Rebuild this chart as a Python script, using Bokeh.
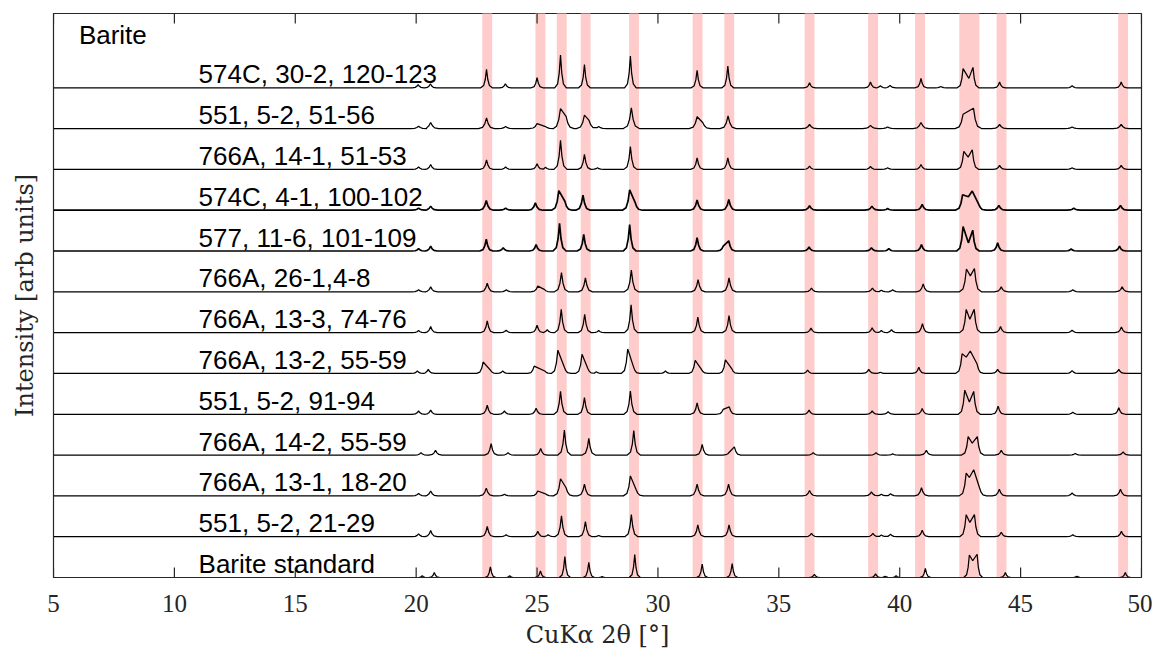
import math
from bokeh.plotting import figure
from bokeh.models import Range1d, FixedTicker, ColumnDataSource
from bokeh.core.properties import value
from bokeh.embed import file_html
from bokeh.resources import INLINE

# ---------------- data ----------------
x_ticks = [5, 10, 15, 20, 25, 30, 35, 40, 45, 50]

# barite reference bands (centre, width) in degrees 2-theta
band_center = [22.94, 25.14, 26.02, 27.01, 29.01, 31.64, 32.95, 36.27, 38.90, 40.84, 42.88, 44.21, 49.24]
band_width = [0.41, 0.41, 0.41, 0.41, 0.41, 0.41, 0.41, 0.41, 0.41, 0.41, 0.83, 0.41, 0.41]

# sample labels, top to bottom
labels = ["574C, 30-2, 120-123", "551, 5-2, 51-56", "766A, 14-1, 51-53", "574C, 4-1, 100-102",
          "577, 11-6, 101-109", "766A, 26-1,4-8", "766A, 13-3, 74-76", "766A, 13-2, 55-59",
          "551, 5-2, 91-94", "766A, 14-2, 55-59", "766A, 13-1, 18-20", "551, 5-2, 21-29",
          "Barite standard"]

# peak features per pattern: groups of (2theta, intensity above baseline, in trace-spacing units)
p574C_30_2 = [[(20.08, 0.08)], [(20.59, 0.10)], [(22.91, 0.45)], [(23.69, 0.10)], [(25.00, 0.25)],
              [(25.97, 0.80)], [(26.96, 0.57)], [(28.86, 0.78)], [(31.62, 0.43)], [(32.89, 0.53)],
              [(36.27, 0.12)], [(38.79, 0.14)], [(39.20, 0.05)], [(39.60, 0.06)], [(40.88, 0.23)],
              [(41.70, 0.03)], [(42.62, 0.47), (42.86, 0.23), (43.03, 0.50)], [(44.13, 0.14)],
              [(47.13, 0.05)], [(49.16, 0.14)]]
p551_5_2_51 = [[(20.10, 0.06)], [(20.60, 0.15)], [(22.91, 0.26)], [(23.70, 0.05)], [(25.00, 0.12), (25.35, 0.05)],
               [(25.97, 0.49), (26.20, 0.30)], [(26.96, 0.33), (27.15, 0.20)], [(27.55, 0.05)], [(28.90, 0.51)],
               [(31.62, 0.29), (31.85, 0.15)], [(32.90, 0.31)], [(36.27, 0.10)], [(38.79, 0.08)], [(39.50, 0.04)],
               [(40.88, 0.15)], [(42.62, 0.35), (43.05, 0.50)], [(44.13, 0.10)], [(47.13, 0.04)], [(49.16, 0.10)]]
p766A_14_1 = [[(20.10, 0.06)], [(20.60, 0.12)], [(22.91, 0.23)], [(23.70, 0.06)], [(25.00, 0.14)], [(25.35, 0.05)],
              [(25.97, 0.71)], [(26.96, 0.37)], [(27.50, 0.04)], [(28.86, 0.56)], [(31.62, 0.28)], [(32.89, 0.28)],
              [(36.27, 0.08)], [(38.79, 0.07)], [(39.50, 0.04)], [(40.88, 0.12)],
              [(42.65, 0.44), (42.83, 0.30), (43.00, 0.48)], [(44.13, 0.10)], [(47.13, 0.04)], [(49.16, 0.10)]]
p574C_4_1 = [[(20.10, 0.05)], [(20.60, 0.10)], [(22.90, 0.24)], [(23.70, 0.05)], [(24.93, 0.18)],
             [(25.90, 0.48), (26.15, 0.22)], [(26.90, 0.37)], [(28.83, 0.50), (29.05, 0.20)], [(31.62, 0.25)],
             [(32.93, 0.26)], [(36.27, 0.11)], [(38.85, 0.10)], [(39.50, 0.04)], [(40.93, 0.14)],
             [(42.60, 0.38), (42.84, 0.33), (43.00, 0.47), (43.27, 0.14)], [(44.10, 0.12)], [(47.20, 0.05)],
             [(49.13, 0.12)]]
p577_11_6 = [[(20.10, 0.06)], [(20.60, 0.12)], [(22.90, 0.29)], [(23.60, 0.08)], [(24.96, 0.16)], [(25.93, 0.68)],
             [(26.93, 0.41)], [(28.83, 0.65)], [(31.62, 0.33)], [(32.70, 0.12), (32.93, 0.25)], [(36.25, 0.10)],
             [(38.83, 0.08)], [(39.55, 0.06)], [(40.90, 0.16)], [(42.62, 0.60), (42.84, 0.20), (43.02, 0.51)],
             [(44.05, 0.20)], [(47.09, 0.05)], [(49.09, 0.12)]]
p766A_26_1 = [[(20.10, 0.05)], [(20.60, 0.12)], [(22.94, 0.21)], [(23.73, 0.05)], [(25.03, 0.14), (25.30, 0.06)],
              [(26.01, 0.47)], [(27.00, 0.34)], [(28.90, 0.53)], [(31.66, 0.30)], [(32.94, 0.34)], [(36.35, 0.09)],
              [(38.87, 0.09)], [(39.24, 0.04)], [(39.71, 0.05)], [(40.97, 0.19)],
              [(42.76, 0.56), (42.92, 0.39), (43.09, 0.57)], [(44.20, 0.12)], [(47.16, 0.05)], [(49.20, 0.12)]]
p766A_13_3 = [[(20.10, 0.05)], [(20.60, 0.15)], [(22.94, 0.29)], [(23.72, 0.06)], [(25.00, 0.18)], [(25.42, 0.07)],
              [(26.00, 0.57)], [(26.97, 0.45)], [(27.55, 0.05)], [(28.89, 0.68)], [(31.65, 0.38)], [(32.94, 0.42)],
              [(36.33, 0.11)], [(38.86, 0.12)], [(39.24, 0.05)], [(39.66, 0.07)], [(40.94, 0.22)],
              [(42.75, 0.57), (42.90, 0.33), (43.08, 0.57)], [(44.17, 0.15)], [(47.13, 0.06)], [(49.17, 0.14)]]
p766A_13_2 = [[(20.05, 0.06)], [(20.50, 0.10)], [(22.77, 0.28), (23.07, 0.08)], [(23.58, 0.06)],
              [(24.88, 0.18), (25.32, 0.06)], [(25.86, 0.57), (26.13, 0.15)], [(26.86, 0.47), (27.10, 0.12)],
              [(27.45, 0.04)], [(28.75, 0.60), (28.98, 0.18)], [(30.31, 0.06)], [(31.54, 0.32), (31.80, 0.10)],
              [(32.79, 0.33), (33.05, 0.12)], [(36.19, 0.08)], [(38.72, 0.10)], [(39.20, 0.03)], [(40.79, 0.15)],
              [(42.58, 0.48), (42.75, 0.40), (42.92, 0.55), (43.20, 0.23)], [(44.05, 0.10)], [(47.13, 0.07)],
              [(49.06, 0.10)]]
p551_5_2_91 = [[(20.10, 0.08)], [(20.60, 0.10)], [(22.94, 0.22)], [(23.65, 0.08)], [(24.96, 0.15)], [(25.97, 0.56)],
               [(26.96, 0.41)], [(28.86, 0.57)], [(31.62, 0.28)], [(32.70, 0.12), (32.95, 0.18)], [(36.25, 0.10)],
               [(38.86, 0.08)], [(39.52, 0.06)], [(40.93, 0.14)], [(42.69, 0.59), (42.88, 0.30), (43.06, 0.56)],
               [(44.07, 0.20)], [(47.16, 0.05)], [(49.06, 0.16)]]
p766A_14_2 = [[(20.20, 0.06)], [(20.80, 0.12)], [(23.10, 0.28)], [(23.80, 0.06)], [(25.15, 0.16)], [(26.13, 0.61)],
              [(27.14, 0.41)], [(29.00, 0.60)], [(31.83, 0.26)], [(32.95, 0.07), (33.16, 0.20)], [(36.42, 0.06)],
              [(39.02, 0.06)], [(39.71, 0.03)], [(41.10, 0.12)], [(42.83, 0.45), (43.00, 0.29), (43.21, 0.45)],
              [(44.20, 0.12)], [(47.26, 0.04)], [(49.24, 0.08)]]
p766A_13_1 = [[(20.10, 0.06)], [(20.60, 0.12)], [(22.90, 0.19)], [(23.65, 0.04)], [(25.03, 0.12), (25.35, 0.05)],
              [(25.97, 0.42), (26.20, 0.20)], [(26.96, 0.29)], [(28.86, 0.49), (29.10, 0.15)], [(31.62, 0.29)],
              [(32.92, 0.29)], [(36.27, 0.13)], [(38.83, 0.10)], [(39.24, 0.04)], [(39.62, 0.05)], [(40.90, 0.20)],
              [(42.75, 0.56), (42.88, 0.45), (43.06, 0.64), (43.30, 0.20)], [(44.12, 0.16)], [(47.13, 0.07)],
              [(49.13, 0.16)]]
p551_5_2_21 = [[(20.10, 0.07)], [(20.60, 0.15)], [(22.94, 0.25)], [(23.72, 0.05)], [(25.03, 0.13)], [(25.46, 0.05)],
               [(26.01, 0.51)], [(27.00, 0.37)], [(27.55, 0.03)], [(28.90, 0.54)], [(31.65, 0.29)], [(32.94, 0.29)],
               [(36.35, 0.08)], [(38.89, 0.08)], [(39.24, 0.04)], [(39.62, 0.06)], [(40.93, 0.16)],
               [(42.75, 0.54), (42.90, 0.35), (43.09, 0.54)], [(44.20, 0.11)], [(47.16, 0.05)], [(49.17, 0.13)]]
p_barite_std = [[(20.25, 0.04)], [(20.75, 0.12)], [(23.07, 0.26)], [(23.87, 0.04)], [(25.14, 0.16)], [(26.15, 0.51)],
                [(27.14, 0.37)], [(27.69, 0.02)], [(29.04, 0.56)], [(31.83, 0.33)], [(33.07, 0.34)], [(36.47, 0.08)],
                [(39.00, 0.09)], [(39.40, 0.03)], [(39.85, 0.04)], [(41.06, 0.22)],
                [(42.88, 0.55), (43.02, 0.41), (43.20, 0.57)], [(44.37, 0.12)], [(47.33, 0.03)], [(49.33, 0.12)]]

patterns = [p574C_30_2, p551_5_2_51, p766A_14_1, p574C_4_1, p577_11_6, p766A_26_1, p766A_13_3,
            p766A_13_2, p551_5_2_91, p766A_14_2, p766A_13_1, p551_5_2_21, p_barite_std]
# half base width of peaks for each pattern (deg)
peak_halfwidth = [0.24, 0.33, 0.27, 0.30, 0.27, 0.29, 0.27, 0.27, 0.27, 0.27, 0.29, 0.27, 0.23]

# ---------------- styling ----------------
FRAME_COL = "#262626"
X0, X1 = 5, 50
Y_TOP = 13.82
LABEL_LIFT = 0.33
# flank shape of a drawn peak: (fraction of half width from apex, fraction of height)
FLANK = [(1.0, 0.0), (0.5, 0.12), (0.22, 0.45)]

p = figure(frame_width=1088, frame_height=564,
           x_range=Range1d(X0, X1), y_range=Range1d(0, Y_TOP),
           output_backend="svg", toolbar_location=None,
           min_border_left=53, min_border_right=11, min_border_top=13, min_border_bottom=60,
           background_fill_color="white", border_fill_color="white")
p.xgrid.visible = False
p.ygrid.visible = False
p.outline_line_color = FRAME_COL
p.outline_line_width = 1.2

# bands
blo = [c - w / 2 for c, w in zip(band_center, band_width)]
bhi = [c + w / 2 for c, w in zip(band_center, band_width)]
p.quad(left=blo, right=bhi, bottom=-1, top=20, fill_color="#ffcccc", line_color=None)

# traces
n = len(patterns)
for i, (groups, w) in enumerate(zip(patterns, peak_halfwidth)):
    off = n - 1 - i
    pts = [(X0, off)]
    for g in groups:
        fx, fh = g[0]
        lx, lh = g[-1]
        for (a, b) in FLANK:
            pts.append((fx - a * w, off + b * fh))
        for (gx, gy) in g:
            pts.append((gx, off + gy))
        for (a, b) in reversed(FLANK):
            pts.append((lx + a * w, off + b * lh))
    pts.append((X1, off))
    xs, ys = [], []
    for (px, py) in pts:
        if xs and px <= xs[-1]:
            if py > ys[-1]:
                ys[-1] = py
            continue
        xs.append(px)
        ys.append(py)
    lw = 1.7 if i in (3, 4) else 1.25
    p.line(xs, ys, line_color="black", line_width=lw)

# inner ticks along the top and bottom edges
p.scatter(x=x_ticks, y=[Y_TOP] * len(x_ticks), marker="dash", size=20, angle=math.pi / 2,
          line_color=FRAME_COL, line_width=1.2)
p.scatter(x=x_ticks, y=[0] * len(x_ticks), marker="dash", size=20, angle=math.pi / 2,
          line_color=FRAME_COL, line_width=1.2)

# labels
src = ColumnDataSource(dict(x=[11.0] * n, y=[n - 1 - i + LABEL_LIFT for i in range(n)], t=labels))
p.text(x="x", y="y", text="t", source=src, text_font=value("Liberation Sans"),
       text_font_size="26px", text_color="black", text_baseline="alphabetic", text_align="left")
p.text(x=[6.05], y=[13.06 + LABEL_LIFT - 0.09], text=["Barite"], text_font=value("Liberation Sans"),
       text_font_size="26px", text_color="black", text_baseline="alphabetic", text_align="left")

# axes
xa = p.xaxis[0]
xa.ticker = FixedTicker(ticks=x_ticks)
xa.major_tick_in = 0
xa.major_tick_out = 0
xa.minor_tick_line_color = None
xa.axis_line_color = FRAME_COL
xa.major_tick_line_color = FRAME_COL
xa.major_label_text_font = "Liberation Serif"
xa.major_label_text_font_size = "25px"
xa.major_label_text_color = FRAME_COL
xa.major_label_standoff = 17
xa.axis_label = "CuKα 2θ [°]"
xa.axis_label_text_font = "DejaVu Serif"
xa.axis_label_text_font_style = "normal"
xa.axis_label_text_font_size = "24px"
xa.axis_label_text_color = FRAME_COL
xa.axis_label_standoff = 6

ya = p.yaxis[0]
ya.ticker = FixedTicker(ticks=[])
ya.major_tick_out = 0
ya.major_tick_in = 0
ya.minor_tick_line_color = None
ya.major_label_standoff = 0
ya.axis_line_color = FRAME_COL
ya.axis_label = "Intensity [arb units]"
ya.axis_label_text_font = "DejaVu Serif"
ya.axis_label_text_font_style = "normal"
ya.axis_label_text_font_size = "24px"
ya.axis_label_text_color = FRAME_COL
ya.axis_label_standoff = 15

open("out.html", "w").write(file_html(p, INLINE))
